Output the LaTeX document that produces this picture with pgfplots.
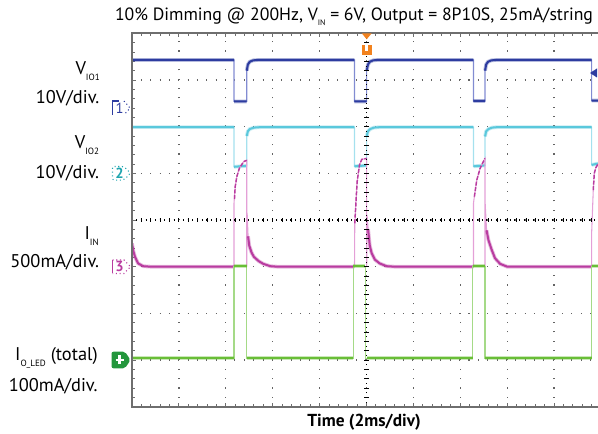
\documentclass[border=0pt]{standalone}
\usepackage{pgfplots}
\pgfplotsset{compat=1.18}
\usepackage{fontspec}
\setmainfont{PT Sans}
\definecolor{cA}{RGB}{45,60,160}
\definecolor{cAl}{RGB}{130,140,210}
\definecolor{cB}{RGB}{90,200,220}
\definecolor{cBl}{RGB}{165,225,238}
\definecolor{cC}{RGB}{185,60,160}
\definecolor{cCl}{RGB}{228,160,215}
\definecolor{cD}{RGB}{105,190,55}
\definecolor{cDl}{RGB}{165,218,135}
\definecolor{cDm}{RGB}{35,150,60}
\definecolor{cBt}{RGB}{30,165,175}
\definecolor{trig}{RGB}{242,130,30}
\definecolor{bord}{RGB}{110,110,110}
\definecolor{gridc}{RGB}{100,100,100}
\newcommand\sub[1]{\raisebox{-4.5pt}{\fontsize{6.8}{7}\selectfont #1}}
\newcommand\tsub[1]{\raisebox{-3.6pt}{\fontsize{6}{7}\selectfont #1}}
\pgfplotsset{trace/.style={line width=1.5pt, preaction={draw, line width=2.8pt, opacity=0.35}}}
\begin{document}
\begin{tikzpicture}[x=0.75pt,y=0.75pt]
\useasboundingbox (0,0) rectangle (598,434);
\begin{axis}[
  name=ax,
  at={(99pt,20.475pt)}, anchor=south west,
  scale only axis, width=349.5pt, height=280.05pt,
  xmin=0, xmax=9.936, ymin=0, ymax=8,
  axis line style={draw=none},
  xtick={0,...,10}, ytick={0,...,8},
  minor x tick num=4, minor y tick num=4,
  xticklabels={}, yticklabels={},
  xtick pos=both, ytick pos=left, tick align=inside,
  major tick length=3pt, minor tick length=2.2pt,
  tick style={bord, line width=0.7pt},
  grid=major,
  major grid style={gridc, line width=1pt, dash pattern=on 0.8pt off 6.22pt, dash phase=0.4pt},
  unbounded coords=jump,
  clip=true,
]
% ---- Channel 1 (V_IO1)
\addplot[cAl, line width=0.8pt] coordinates {(0,7.43) (2.175,7.43) (2.175,6.54) (2.446,6.54) (2.446,7.2) (2.47,7.33) (2.51,7.39) (2.58,7.42) (2.7,7.43) (4.744,7.43) (4.744,6.54) (5.004,6.54) (5.004,7.2) (5.03,7.33) (5.07,7.39) (5.14,7.42) (5.25,7.43) (7.281,7.43) (7.281,6.55) (7.527,6.55) (7.527,7.2) (7.55,7.33) (7.59,7.39) (7.66,7.42) (7.78,7.43) (9.80,7.43) (9.80,6.56) (9.936,6.56)};
\addplot[cA, trace] coordinates {(0,7.43) (2.175,7.43) (2.175,nan) (2.175,6.54) (2.446,6.54) (2.446,nan) (2.448,7.2) (2.47,7.33) (2.51,7.39) (2.58,7.42) (2.7,7.43) (4.744,7.43) (4.744,nan) (4.744,6.54) (5.004,6.54) (5.004,nan) (5.006,7.2) (5.03,7.33) (5.07,7.39) (5.14,7.42) (5.25,7.43) (7.281,7.43) (7.281,nan) (7.281,6.55) (7.527,6.55) (7.527,nan) (7.529,7.2) (7.55,7.33) (7.59,7.39) (7.66,7.42) (7.78,7.43) (9.80,7.43) (9.80,nan) (9.80,6.56) (9.936,6.56)};
% ---- Channel 2 (V_IO2)
\addplot[cBl, line width=0.8pt] coordinates {(0,5.99) (2.175,5.99) (2.175,5.14) (2.446,5.16) (2.446,5.8) (2.47,5.9) (2.51,5.95) (2.6,5.98) (2.75,5.99) (4.744,5.99) (4.744,5.15) (5.004,5.17) (5.004,5.8) (5.03,5.9) (5.08,5.95) (5.16,5.98) (5.3,5.99) (7.281,5.99) (7.281,5.15) (7.527,5.17) (7.527,5.79) (7.55,5.9) (7.6,5.95) (7.68,5.98) (7.8,5.99) (9.80,5.99) (9.80,5.18) (9.936,5.21)};
\addplot[cB, trace] coordinates {(0,5.99) (2.175,5.99) (2.175,nan) (2.175,5.14) (2.446,5.16) (2.446,nan) (2.448,5.8) (2.47,5.9) (2.51,5.95) (2.6,5.98) (2.75,5.99) (4.744,5.99) (4.744,nan) (4.744,5.15) (5.004,5.17) (5.004,nan) (5.006,5.8) (5.03,5.9) (5.08,5.95) (5.16,5.98) (5.3,5.99) (7.281,5.99) (7.281,nan) (7.281,5.15) (7.527,5.17) (7.527,nan) (7.529,5.79) (7.55,5.9) (7.6,5.95) (7.68,5.98) (7.8,5.99) (9.80,5.99) (9.80,nan) (9.80,5.18) (9.936,5.21)};
% ---- Channel 3 (I_IN)
\addplot[cCl, line width=0.8pt] coordinates {(0,3.5) (0.03,3.33) (0.064,3.21) (0.13,3.07) (0.24,3.01) (0.4,3.0) (2.175,3.0) (2.175,4.36) (2.20,4.71) (2.235,4.93) (2.29,5.11) (2.38,5.25) (2.446,5.28) (2.446,3.0) (2.455,4.15) (2.475,3.65) (2.5,3.45) (2.55,3.3) (2.6,3.21) (2.7,3.12) (2.8,3.06) (2.95,3.01) (3.1,3.0) (4.744,3.0) (4.75,3.93) (4.80,4.82) (4.85,5.18) (4.90,5.3) (5.004,5.32) (5.004,3.0) (5.012,4.1) (5.035,3.8) (5.07,3.45) (5.11,3.29) (5.18,3.15) (5.28,3.07) (5.43,3.01) (5.6,3.0) (7.281,3.0) (7.281,4.36) (7.30,4.5) (7.35,4.85) (7.42,5.1) (7.5,5.27) (7.527,5.32) (7.527,3.0) (7.53,4.36) (7.56,3.78) (7.6,3.57) (7.67,3.36) (7.74,3.18) (7.85,3.06) (8.0,3.0) (9.80,3.0) (9.80,3.71) (9.835,4.64) (9.857,5.0) (9.89,5.12) (9.936,5.2)};
\addplot[cC, line width=1.1pt, dash pattern=on 3pt off 1.2pt] coordinates {(2.185,4.45) (2.20,4.71) (2.235,4.93) (2.29,5.11) (2.38,5.25) (2.446,5.28) (2.446,nan) (4.75,3.93) (4.80,4.82) (4.85,5.18) (4.90,5.3) (5.004,5.32) (5.004,nan) (7.30,4.5) (7.35,4.85) (7.42,5.1) (7.5,5.27) (7.527,5.32) (7.527,nan) (9.835,4.64) (9.857,5.0) (9.89,5.12) (9.936,5.2)};
\addplot[cC, trace] coordinates {(0,3.5) (0.03,3.33) (0.064,3.21) (0.13,3.07) (0.24,3.01) (0.4,3.0) (2.175,3.0) (2.175,nan) (2.475,3.65) (2.5,3.45) (2.55,3.3) (2.6,3.21) (2.7,3.12) (2.8,3.06) (2.95,3.01) (3.1,3.0) (4.744,3.0) (4.744,nan) (5.035,3.8) (5.07,3.45) (5.11,3.29) (5.18,3.15) (5.28,3.07) (5.43,3.01) (5.6,3.0) (7.281,3.0) (7.281,nan) (7.56,3.78) (7.6,3.57) (7.67,3.36) (7.74,3.18) (7.85,3.06) (8.0,3.0) (9.80,3.0)};
% ---- Channel 4 (I_O_LED)
\addplot[cDl, line width=0.8pt] coordinates {(0,1.04) (2.175,1.04) (2.175,3.01) (2.446,3.01) (2.446,1.04) (4.72,1.04) (4.72,3.01) (4.97,3.01) (4.97,1.04) (7.265,1.04) (7.265,3.01) (7.527,3.01) (7.527,1.04) (9.80,1.04) (9.80,3.01) (9.936,3.01)};
\addplot[cD, trace] coordinates {(0,1.04) (2.175,1.04) (2.175,nan) (2.175,3.01) (2.446,3.01) (2.446,nan) (2.446,1.04) (4.72,1.04) (4.72,nan) (4.72,3.01) (4.97,3.01) (4.97,nan) (5.0,1.04) (7.265,1.04) (7.265,nan) (7.265,3.01) (7.527,3.01) (7.527,nan) (7.527,1.04) (9.80,1.04) (9.80,nan) (9.80,3.01) (9.936,3.01)};
% ---- centre cross-hair
\draw[black, line width=0.9pt, dash pattern=on 0.7pt off 2.8pt, dash phase=0.35pt] (axis cs:0,4) -- (axis cs:9.936,4);
\draw[black, line width=3.2pt, dash pattern=on 0.7pt off 6.335pt, dash phase=0.35pt] (axis cs:0,4) -- (axis cs:9.936,4);
\draw[black, line width=0.9pt, dash pattern=on 0.7pt off 2.8pt, dash phase=0.35pt] (axis cs:5,0) -- (axis cs:5,8);
\draw[black, line width=3.2pt, dash pattern=on 0.7pt off 6.3pt, dash phase=0.35pt] (axis cs:5,0) -- (axis cs:5,8);
\end{axis}
% borders
\draw[bord, line width=1.6pt] (ax.north east) -- (ax.north west) -- (ax.south west) -- (ax.south east);
% trigger marker
\fill[trig] (361.7,400.7) -- (371.7,400.7) -- (366.7,394.7) -- cycle;
\fill[trig] (361.7,389) rectangle (371.7,379);
\fill[white] (365.2,389.5) rectangle (368.2,383);
% right ch1 marker
\fill[cA] (590,361) -- (597,365.5) -- (597,356.5) -- cycle;
% channel markers
\draw[cA, line width=0.8pt] (119,333) -- (112.5,333) -- (112.5,319);
\node[cA, font=\fontsize{11}{11}\selectfont] at (119.5,326) {1};
\draw[cA, line width=0.8pt, dotted] (124,333) -- (130,326) -- (124,319);
\draw[cBt, line width=0.8pt, dotted, rounded corners=1.5pt] (112.5,267.5) -- (124,267.5) -- (130.5,260.7) -- (124,253.9) -- (112.5,253.9) -- cycle;
\node[cBt, font=\bfseries\fontsize{11}{11}\selectfont] at (119.5,260.7) {2};
\draw[cC, line width=0.8pt] (112.5,174) -- (112.5,160.5);
\draw[cC, line width=0.8pt, dotted] (112.5,174) -- (124,174) -- (130.5,167.3) -- (124,160.5) -- (112.5,160.5);
\node[cC, font=\bfseries\fontsize{11}{11}\selectfont] at (119.5,167.3) {3};
\fill[cDm, rounded corners=1.5pt] (111.5,82.3) -- (125,82.3) -- (130.5,74) -- (125,65.7) -- (111.5,65.7) -- cycle;
\draw[white, line width=1.6pt] (115.5,74) -- (124,74) (119.5,69.5) -- (119.5,78.5);
% titles and labels
\node[anchor=base, font=\fontsize{13.3}{15}\selectfont, inner sep=0pt] at (354,413.3) {10\% Dimming @ 200Hz, V\tsub{IN} = 6V, Output = 8P10S, 25mA/string};
\node[anchor=base, font=\bfseries\fontsize{13}{15}\selectfont, inner sep=0pt] at (364,7.3) {Time (2ms/div)};
\begin{scope}[every node/.style={anchor=base east, inner sep=0pt, font=\fontsize{13.8}{15}\selectfont}]
\node at (100,359) {V\sub{IO1}};
\node at (99.5,330) {10V/div.};
\node at (99.3,285.7) {V\sub{IO2}};
\node at (99.3,255.7) {10V/div.};
\node at (99,194) {I\sub{IN}};
\node at (99.3,166.3) {500mA/div.};
\node at (98,73.3) {I\sub{O\_LED} (total)};
\node at (97.7,42.3) {100mA/div.};
\end{scope}
\end{tikzpicture}
\end{document}
